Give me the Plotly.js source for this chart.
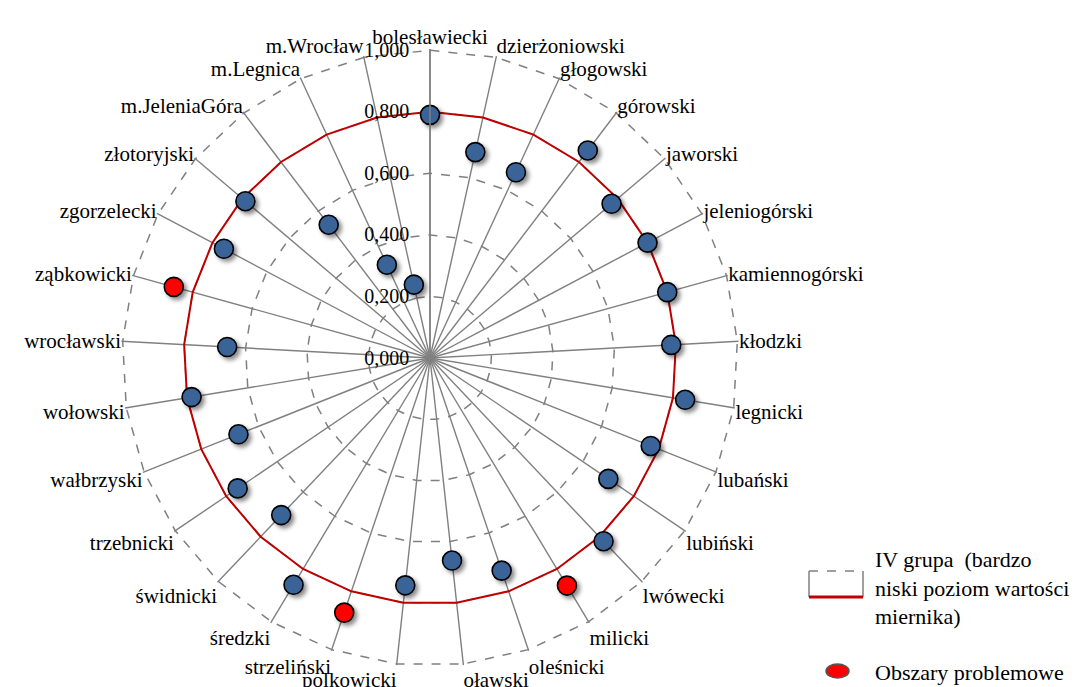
<!DOCTYPE html>
<html>
<head>
<meta charset="utf-8">
<script src="https://cdn.plot.ly/plotly-3.0.1.min.js"></script>
<style>html,body{margin:0;padding:0;background:#fff;}#chart{width:1083px;height:687px;}
.scatterlayer .trace .points path{filter:drop-shadow(3px 3px 2px rgba(0,0,0,0.45));}</style>
</head>
<body>
<div id="chart"></div>
<script>
const categories = ["bolesławiecki","dzierżoniowski","głogowski","górowski","jaworski","jeleniogórski","kamiennogórski","kłodzki","legnicki","lubański","lubiński","lwówecki","milicki","oleśnicki","oławski","polkowicki","strzeliński","średzki","świdnicki","trzebnicki","wałbrzyski","wołowski","wrocławski","ząbkowicki","zgorzelecki","złotoryjski","m.JeleniaGóra","m.Legnica","m.Wrocław"];
const values = [0.790,0.685,0.665,0.847,0.774,0.800,0.800,0.785,0.840,0.772,0.700,0.820,0.863,0.729,0.662,0.743,0.873,0.860,0.703,0.755,0.670,0.785,0.660,0.864,0.758,0.787,0.544,0.334,0.244];
const problemAreas = ["milicki","strzeliński","ząbkowicki"];
const groupIVThreshold = [0.8,0.8,0.8,0.8,0.8,0.8,0.8,0.8,0.8,0.8,0.8,0.8,0.8,0.8,0.8,0.8,0.8,0.8,0.8,0.8,0.8,0.8,0.8,0.8,0.8,0.8,0.8,0.8,0.8];
const radialTicks = [0,0.2,0.4,0.6,0.8,1.0];
const legendLabels = ["IV grupa  (bardzo<br>niski poziom wartości<br>miernika)","Obszary problemowe"];

const normTheta=[], normR=[], probTheta=[], probR=[];
categories.forEach((c,i)=>{
  if(problemAreas.includes(c)){probTheta.push(c);probR.push(values[i]);}
  else {normTheta.push(c);normR.push(values[i]);}
});

const font = "Liberation Serif";
const traces = [
  {type:'scatterpolar', mode:'lines', theta:categories.concat([categories[0]]), r:groupIVThreshold.concat([groupIVThreshold[0]]),
   line:{color:'#C00000', width:2}, hoverinfo:'skip', name:'IV grupa'},
  {type:'scatterpolar', mode:'markers', theta:normTheta, r:normR,
   marker:{size:19, color:'#3A6497', line:{color:'#000', width:1.6}}, name:'wartości'},
  {type:'scatterpolar', mode:'markers', theta:probTheta, r:probR,
   marker:{size:19, color:'#FF0000', line:{color:'#000', width:1.6}}, name:'Obszary problemowe'}
];

const layout = {
  width:1083, height:687,
  margin:{l:0,r:0,t:0,b:0},
  paper_bgcolor:'#fff',
  showlegend:false,
  separators:', ',
  font:{family:font, size:20, color:'#000'},
  polar:{
    domain:{x:[121/1083, 739/1083], y:[20/687, 638/687]},
    bgcolor:'#fff',
    gridshape:'linear',
    radialaxis:{
      range:[0,1.004], tickvals:radialTicks, tickformat:'.3f',
      angle:90, side:'counterclockwise', tickangle:90,
      showline:true, linecolor:'#808080', linewidth:1.5,
      ticks:'outside', ticklen:13, tickcolor:'rgba(0,0,0,0)',
      gridcolor:'#808080', gridwidth:1.5, griddash:'dash',
      tickfont:{family:font, size:20, color:'#000'}
    },
    angularaxis:{
      type:'category', categoryorder:'array', categoryarray:categories,
      direction:'clockwise', rotation:90,
      showline:false, ticks:'',
      gridcolor:'#808080', gridwidth:1.4,
      tickfont:{family:font, size:21, color:'#000'}
    }
  },
  shapes:[
    {type:'line', xref:'paper', yref:'paper', x0:809/1083, x1:863/1083, y0:(687-571)/687, y1:(687-571)/687, line:{color:'#808080', width:1.5, dash:'dash'}},
    {type:'line', xref:'paper', yref:'paper', x0:809/1083, x1:809/1083, y0:(687-571)/687, y1:(687-597)/687, line:{color:'#808080', width:1.5}},
    {type:'line', xref:'paper', yref:'paper', x0:863/1083, x1:863/1083, y0:(687-571)/687, y1:(687-597)/687, line:{color:'#808080', width:1.5}},
    {type:'line', xref:'paper', yref:'paper', x0:809/1083, x1:863/1083, y0:(687-597)/687, y1:(687-597)/687, line:{color:'#C00000', width:3}},
    {type:'circle', xref:'paper', yref:'paper', x0:826/1083, x1:849/1083, y0:(687-678)/687, y1:(687-664)/687, fillcolor:'#FF0000', line:{color:'#555', width:1.5}}
  ],
  annotations:[
    {xref:'paper', yref:'paper', x:873/1083, y:(687-588)/687, xanchor:'left', yanchor:'middle', align:'left', showarrow:false,
     text:legendLabels[0], font:{family:font, size:22, color:'#000'}},
    {xref:'paper', yref:'paper', x:873/1083, y:(687-672)/687, xanchor:'left', yanchor:'middle', align:'left', showarrow:false,
     text:legendLabels[1], font:{family:font, size:22, color:'#000'}}
  ]
};
Plotly.newPlot('chart', traces, layout, {displayModeBar:false, staticPlot:true});
</script>
</body>
</html>
